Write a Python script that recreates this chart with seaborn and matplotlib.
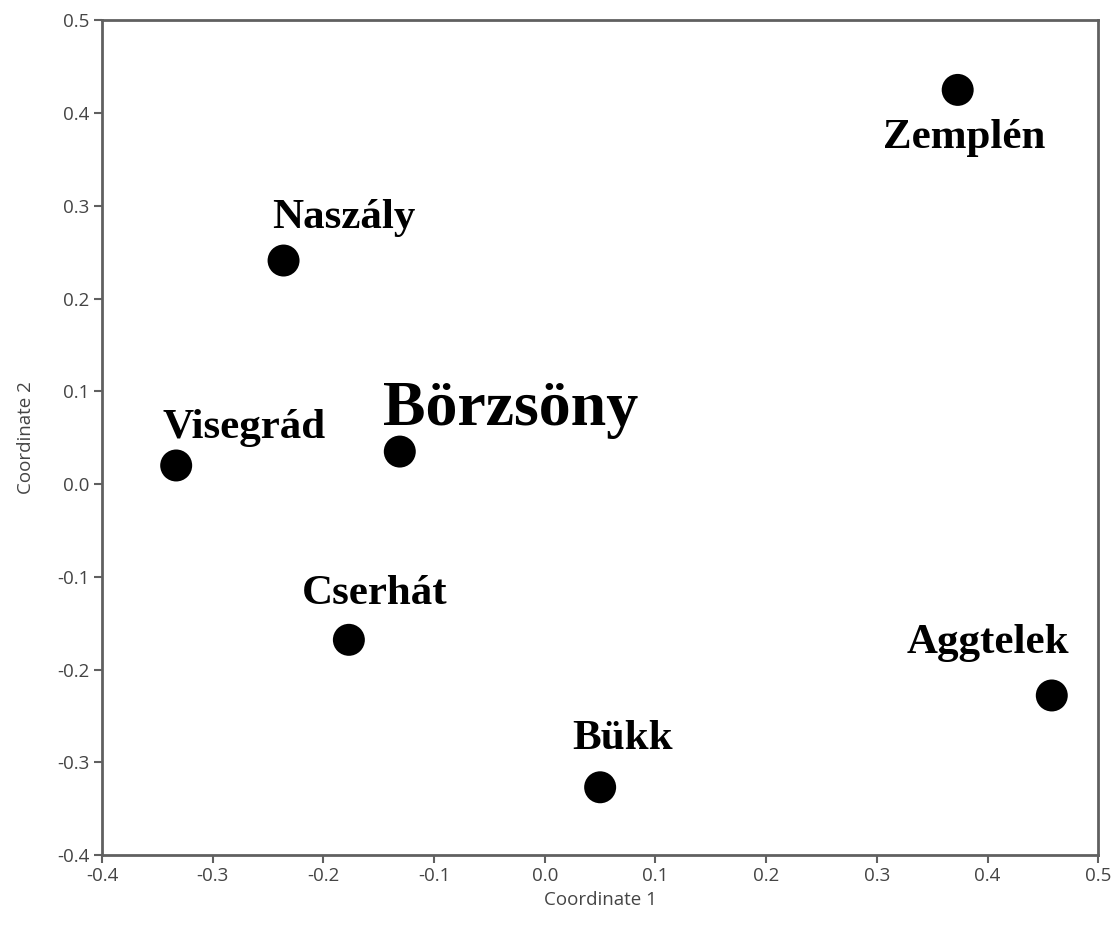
import numpy as np
import pandas as pd
import matplotlib
matplotlib.use('Agg')
import matplotlib.pyplot as plt
import seaborn as sns

# MDS coordinates
regions = ['Zemplén', 'Naszály', 'Visegrád', 'Börzsöny', 'Cserhát', 'Bükk', 'Aggtelek']
coord1 = [0.373, -0.236, -0.333, -0.131, -0.177, 0.050, 0.458]
coord2 = [0.425, 0.241, 0.020, 0.035, -0.168, -0.327, -0.228]

ticks = [-0.4, -0.3, -0.2, -0.1, 0.0, 0.1, 0.2, 0.3, 0.4, 0.5]

df = pd.DataFrame({'region': regions, 'c1': coord1, 'c2': coord2})

# label placement relative to the dot (pixels: right, down)
offsets = {'Zemplén': (6, 58), 'Naszály': (60, -33), 'Visegrád': (68, -27),
           'Börzsöny': (111, -27), 'Cserhát': (26, -36), 'Bükk': (22, -38),
           'Aggtelek': (-64, -42)}

sns.set_theme(style='white')
plt.rcParams['font.family'] = ['Open Sans', 'DejaVu Sans']
plt.rcParams['axes.unicode_minus'] = False

fig = plt.figure(figsize=(11.15, 9.25), dpi=100)
ax = fig.add_axes([0.0915, 0.0757, 0.8935, 0.9023])

sns.scatterplot(data=df, x='c1', y='c2', color='black', s=530,
                edgecolor='none', ax=ax, zorder=3)

# labels in bold serif, Börzsöny larger
for _, row in df.iterrows():
    dx, dy = offsets[row['region']]
    size = 46 if row['region'] == 'Börzsöny' else 31
    ax.annotate(row['region'], (row['c1'], row['c2']),
                xytext=(dx * 0.72, -dy * 0.72), textcoords='offset points',
                ha='center', va='baseline', fontsize=size,
                fontweight='bold', family='Liberation Serif', color='black')

ax.set_xlim(-0.4, 0.5)
ax.set_ylim(-0.4, 0.5)
ax.set_xticks(ticks)
ax.set_yticks(ticks)
ax.set_xticklabels(['%.1f' % t for t in ticks])
ax.set_yticklabels(['%.1f' % t for t in ticks])

for sp in ax.spines.values():
    sp.set_color('#606060')
    sp.set_linewidth(2)

ax.tick_params(axis='both', direction='out', length=6, width=1.5,
               color='#606060', labelcolor='#444444', labelsize=13.5,
               bottom=True, left=True, pad=3)

ax.set_xlabel('Coordinate 1', fontsize=13.5, color='#444444', labelpad=4)
ax.set_ylabel('Coordinate 2', fontsize=13.5, color='#444444', labelpad=16)

fig.savefig('out.png', dpi=100)
